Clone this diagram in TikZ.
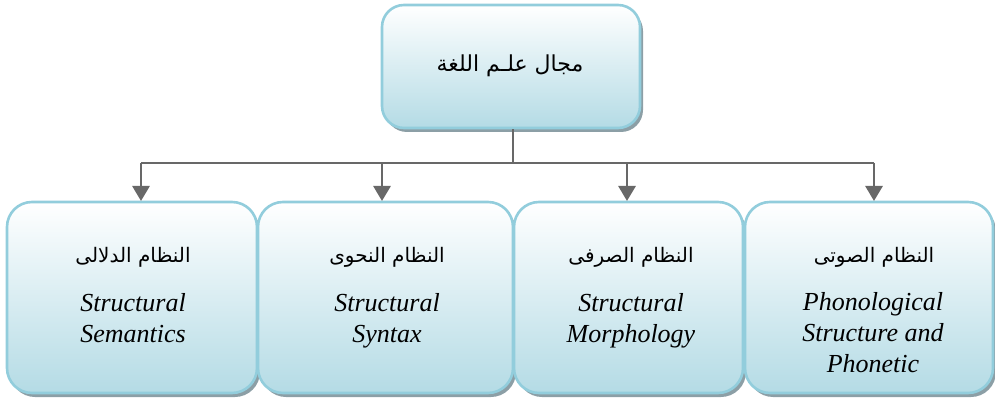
\documentclass[tikz,border=0pt]{standalone}
\usepackage{fontspec}
\setmainfont{Liberation Serif}
\newfontfamily\arabicfont[Script=Arabic]{DejaVu Sans}
\TeXXeTstate=1
\usetikzlibrary{arrows.meta,shadows}

\definecolor{boxedge}{HTML}{92CDDC}
\definecolor{boxfill}{HTML}{B4DBE5}
\definecolor{shadowgrey}{HTML}{8C9FA6}
\definecolor{connect}{HTML}{686868}

\tikzset{
  panel/.style={draw=boxedge, line width=2.6pt, inner sep=0pt,
    top color=white, bottom color=boxfill,
    drop shadow={shadow xshift=3pt, shadow yshift=-4pt, fill=shadowgrey, opacity=1}},
  leaf/.style={panel, rounded corners=25pt, minimum height=191pt},
  conn/.style={draw=connect, line width=2.8pt},
  arrowconn/.style={conn, -{Triangle[width=17pt,length=15pt]}},
  artext/.style={inner sep=0pt, font=\arabicfont\fontsize{20}{24}\selectfont},
  % multi-line labels are placed by the baseline of their last line
  entext/.style={inner sep=0pt, align=center, anchor=base,
    font=\itshape\fontsize{26}{31}\selectfont},
}

\begin{document}
\begin{tikzpicture}[x=1pt,y=1pt]
  \useasboundingbox (0,0) rectangle (995,402);

  % root
  \node[panel, rounded corners=22pt, minimum width=258pt, minimum height=123pt]
    (root) at (511,335.5) {};
  \node[artext, font=\arabicfont\fontsize{22}{26}\selectfont] (rootlabel) at (510,336)
    {\beginR مجال علـم اللغة\endR};

  % four branches
  \node[leaf, minimum width=250pt] (sem) at (132,104.5) {};
  \node[leaf, minimum width=255pt] (syn) at (385.5,104.5) {};
  \node[leaf, minimum width=229pt] (mor) at (628.5,104.5) {};
  \node[leaf, minimum width=248pt] (pho) at (869,104.5) {};

  \node[artext] (semar) at (133,145) {\beginR النظام الدلالى\endR};
  \node[entext] (semen) at (133,60) {Structural\\Semantics};

  \node[artext] (synar) at (387,145) {\beginR النظام النحوى\endR};
  \node[entext] (synen) at (387,60) {Structural\\Syntax};

  \node[artext] (morar) at (631,145) {\beginR النظام الصرفى\endR};
  \node[entext] (moren) at (631,60) {Structural\\Morphology};

  \node[artext] (phoar) at (874,145) {\beginR النظام الصوتى\endR};
  \node[entext] (phoen) at (873,30) {Phonological\\Structure and\\Phonetic};

  % connectors
  \coordinate (bus) at (513,239);
  \coordinate (t1) at (141,201);
  \coordinate (t2) at (382,201);
  \coordinate (t3) at (627,201);
  \coordinate (t4) at (874,201);

  \draw[conn] (root.south -| bus) -- (bus);
  \draw[conn] (t1 |- bus) -- (t4 |- bus);
  \foreach \t in {t1,t2,t3,t4}
    \draw[arrowconn] (\t |- bus) -- (\t);
\end{tikzpicture}
\end{document}
